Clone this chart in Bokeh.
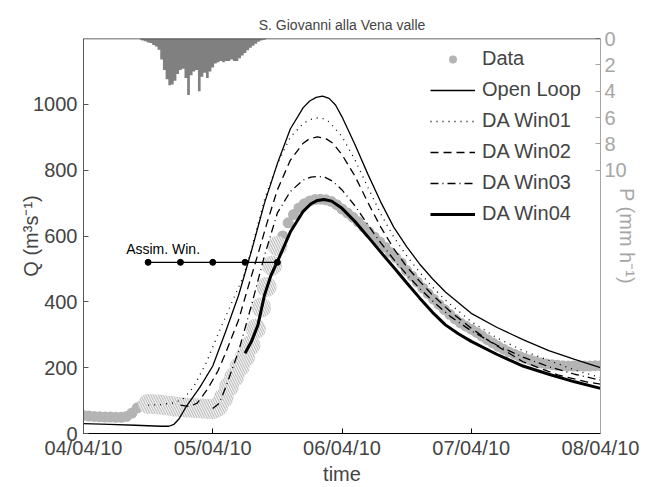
from datetime import datetime, timedelta
from bokeh.plotting import figure
from bokeh.models import (Range1d, LinearAxis, FixedTicker, DatetimeTickFormatter,
                          Legend, LegendItem, Label, Span)
from bokeh.embed import file_html
from bokeh.resources import INLINE

T0 = datetime(2010, 4, 4)
EPOCH = datetime(1970, 1, 1)

# ---- data (time in days since 04/04/10 00:00) ----
data_q = [55, 53, 52, 51, 50, 50, 49, 49, 52, 62, 78, 88,
          90, 89, 88, 86, 84, 82, 80, 79, 78, 77, 76, 75, 74,
          82, 108, 142, 172, 203, 233, 268, 318, 383, 445, 510, 570,
          600, 640, 665, 685, 698, 706, 711, 712, 710, 705, 695, 682,
          670, 657, 643, 628, 612, 597, 582, 566, 550, 534, 518,
          495, 478, 460, 442, 425, 408, 392, 377, 362, 348, 336, 326, 317,
          307, 296, 285, 275, 265, 256, 248, 241, 234, 228, 223, 218,
          214, 211, 209, 207, 206, 205, 205, 205, 205, 205, 206, 206]
data_hours = list(range(len(data_q)))
win_first_hour, win_last_hour = 12, 36

ol_t = [0, 0.2, 0.4, 0.6, 0.66, 0.7, 0.74, 0.8, 0.9, 1.0, 1.1, 1.2, 1.3, 1.4, 1.5, 1.6, 1.7,
        1.75, 1.8, 1.85, 1.9, 1.95, 2.0, 2.1, 2.2, 2.3, 2.4, 2.5, 2.6, 2.7, 2.8, 3.0, 3.2,
        3.4, 3.6, 3.8, 4.0]
ol_q = [30, 28, 25, 22, 22, 28, 45, 85, 140, 205, 310, 420, 555, 700, 820, 925, 990,
        1010, 1021, 1025, 1018, 998, 962, 878, 788, 703, 627, 568, 515, 470, 430, 365, 322,
        285, 252, 225, 200]

w1_t = [0.5, 0.6, 0.7, 0.77, 0.85, 0.95, 1.05, 1.15, 1.24, 1.3, 1.4, 1.5, 1.6, 1.7, 1.75,
        1.8, 1.85, 1.9, 2.0, 2.1, 2.2, 2.3, 2.4, 2.5, 2.6, 2.7, 2.8, 3.0, 3.2, 3.4, 3.6,
        3.8, 4.0]
w1_q = [86, 88, 93, 105, 140, 215, 310, 400, 480, 560, 710, 820, 900, 942, 953,
        959, 957, 947, 902, 832, 748, 667, 597, 540, 490, 445, 405, 340, 290, 252, 222,
        193, 170]

w2_t = [0.75, 0.82, 0.88, 0.96, 1.04, 1.1, 1.2, 1.27, 1.35, 1.42, 1.5, 1.6, 1.7, 1.75, 1.81,
        1.87, 1.93, 2.0, 2.1, 2.2, 2.3, 2.4, 2.5, 2.6, 2.7, 2.84, 3.0, 3.15, 3.4, 3.67,
        3.9, 4.0]
w2_q = [86, 82, 92, 135, 190, 245, 345, 440, 545, 640, 740, 830, 882, 896, 901,
        897, 882, 847, 782, 702, 627, 562, 507, 463, 421, 370, 320, 278, 218, 178,
        156, 150]

w3_t = [1.0, 1.05, 1.1, 1.2, 1.3, 1.4, 1.5, 1.6, 1.7, 1.76, 1.81, 1.87, 1.93, 2.0, 2.1,
        2.2, 2.3, 2.4, 2.5, 2.6, 2.7, 2.84, 3.0, 3.2, 3.4, 3.6, 3.8, 4.0]
w3_q = [76, 92, 140, 250, 390, 540, 670, 735, 770, 779, 781, 778, 766, 740, 692,
        634, 579, 529, 483, 441, 403, 355, 312, 268, 232, 203, 180, 162]

w4_t = [1.25, 1.3, 1.35, 1.4, 1.45, 1.5, 1.6, 1.7, 1.76, 1.81, 1.86, 1.92, 2.0, 2.1, 2.2,
        2.3, 2.4, 2.5, 2.6, 2.7, 2.8, 2.9, 3.0, 3.2, 3.4, 3.6, 3.8, 4.0]
w4_q = [244, 280, 330, 420, 480, 522, 612, 675, 698, 708, 711, 706, 684, 644, 598,
        551, 505, 458, 412, 368, 330, 303, 280, 240, 205, 180, 157, 137]

# precipitation, half-hourly from day 0.4375 (mm/h)
p_start, p_step = 0.4375, 1 / 48
p_vals = [0.1, 0.15, 0.2, 0.3, 0.35, 0.5, 0.6, 0.85, 1.6, 2.4, 3.1, 3.55, 3.5, 3.2, 2.7, 2.4,
          2.3, 3.0, 4.3, 2.8, 2.5, 2.4, 4.0, 2.9, 2.6, 3.0, 2.5, 2.2, 1.9, 1.8, 1.7, 1.8,
          1.7, 1.7, 1.6, 1.7, 1.7, 1.5, 1.3, 1.1, 0.9, 0.7, 0.55, 0.4, 0.25, 0.15, 0.1, 0.05]

win_t = [0.5, 0.75, 1.0, 1.25, 1.5]
win_q = 520

day_ticks = [0, 1, 2, 3, 4]
q_ticks = [0, 200, 400, 600, 800, 1000]
p_ticks = [0, 2, 4, 6, 8, 10]


def dt(days):
    return [T0 + timedelta(days=d) for d in days]


def ms(day):
    return (T0 + timedelta(days=day) - EPOCH).total_seconds() * 1000


FONT = "Liberation Sans"
FS = "20px"

p = figure(width=651, height=487, x_axis_type="datetime",
           output_backend="svg", toolbar_location=None,
           x_range=Range1d(ms(0), ms(4)), y_range=Range1d(0, 1200),
           min_border_left=83, min_border_right=51, min_border_top=38, min_border_bottom=51,
           title="S. Giovanni alla Vena valle")
p.title.align = "center"
p.title.vertical_align = "top"
p.title.text_font = FONT
p.title.text_font_size = "14px"
p.title.text_font_style = "normal"
p.title.standoff = 8
p.grid.visible = False
p.outline_line_color = None
p.background_fill_color = "white"

p.extra_y_ranges = {"P": Range1d(30, 0)}

# precipitation
p.varea_step(x=dt([p_start + i * p_step for i in range(len(p_vals))]), y1=0, y2=p_vals,
             step_mode="center", y_range_name="P", fill_color="#808080")

# data
d_days = [h / 24 for h in data_hours]
out_idx = [i for i in data_hours if i < win_first_hour or i > win_last_hour]
in_idx = [i for i in data_hours if win_first_hour <= i <= win_last_hour]
r_data = p.scatter(x=dt([d_days[i] for i in out_idx]), y=[data_q[i] for i in out_idx],
                   size=11, fill_color="#b4b4b4", line_color=None)
p.scatter(x=dt([d_days[i] for i in in_idx]), y=[data_q[i] for i in in_idx],
          size=20, fill_color="#c2c2c2", line_color=None,
          hatch_pattern="\\", hatch_color="#ffffff", hatch_scale=5, hatch_weight=1.0)

# model runs
r_ol = p.line(dt(ol_t), ol_q, line_color="black", line_width=1.3)
r_w1 = p.line(dt(w1_t), w1_q, line_color="black", line_width=1.3, line_dash="1 5")
r_w2 = p.line(dt(w2_t), w2_q, line_color="black", line_width=1.3, line_dash="8 5")
r_w3 = p.line(dt(w3_t), w3_q, line_color="black", line_width=1.3, line_dash="8 4 1 4")
r_w4 = p.line(dt(w4_t), w4_q, line_color="black", line_width=3)

# assimilation windows
p.line(dt(win_t), [win_q] * len(win_t), line_color="black", line_width=1.3)
p.scatter(dt(win_t), [win_q] * len(win_t), size=6, fill_color="black", line_color="black")
p.add_layout(Label(x=ms(0.33), y=537, text="Assim. Win.", text_font=FONT,
                   text_font_size="14px", text_color="black"))

# top border
p.add_layout(Span(location=1200, dimension="width", line_color="#333333", line_width=1.5))

# axes
xa = p.xaxis[0]
xa.ticker = FixedTicker(ticks=[ms(d) for d in day_ticks])
xa.formatter = DatetimeTickFormatter(days="%d/%m/%y", hours="%d/%m/%y", months="%d/%m/%y")
xa.axis_label = "time"
ya = p.yaxis[0]
ya.ticker = FixedTicker(ticks=q_ticks)
ya.axis_label = "Q (m³s⁻¹)"
for ax in (xa, ya):
    ax.major_tick_in = 5
    ax.major_tick_out = 0
    ax.minor_tick_line_color = None
    ax.major_label_text_font = FONT
    ax.major_label_text_font_size = FS
    ax.axis_label_text_font = FONT
    ax.axis_label_text_font_size = FS
    ax.axis_label_text_font_style = "normal"
xa.axis_line_color = "black"
xa.major_label_standoff = 3
xa.axis_label_standoff = 1
ya.axis_line_color = "#555555"
ya.major_tick_line_color = "#555555"
ya.major_label_standoff = 6
ya.axis_label_standoff = -12

pa = LinearAxis(y_range_name="P", ticker=FixedTicker(ticks=p_ticks), axis_label="P (mm h⁻¹)")
pa.major_tick_in = 5
pa.major_tick_out = 0
pa.minor_tick_line_color = None
pa.axis_line_color = "#a6a6a6"
pa.major_tick_line_color = "#a6a6a6"
pa.major_label_text_color = "#a6a6a6"
pa.axis_label_text_color = "#a6a6a6"
pa.major_label_text_font = FONT
pa.major_label_text_font_size = FS
pa.axis_label_text_font = FONT
pa.axis_label_text_font_size = FS
pa.axis_label_text_font_style = "normal"
pa.major_label_standoff = 4
pa.axis_label_standoff = -14
p.add_layout(pa, "right")

legend = Legend(items=[
    LegendItem(label="Data", renderers=[r_data]),
    LegendItem(label="Open Loop", renderers=[r_ol]),
    LegendItem(label="DA Win01", renderers=[r_w1]),
    LegendItem(label="DA Win02", renderers=[r_w2]),
    LegendItem(label="DA Win03", renderers=[r_w3]),
    LegendItem(label="DA Win04", renderers=[r_w4]),
], location=(347, 208), border_line_color=None, background_fill_alpha=0,
    label_text_font=FONT, label_text_font_size=FS, glyph_width=45, glyph_height=20,
    label_height=20, spacing=8, padding=0, margin=0, label_standoff=7)
p.add_layout(legend)

open("out.html", "w").write(file_html(p, INLINE))
